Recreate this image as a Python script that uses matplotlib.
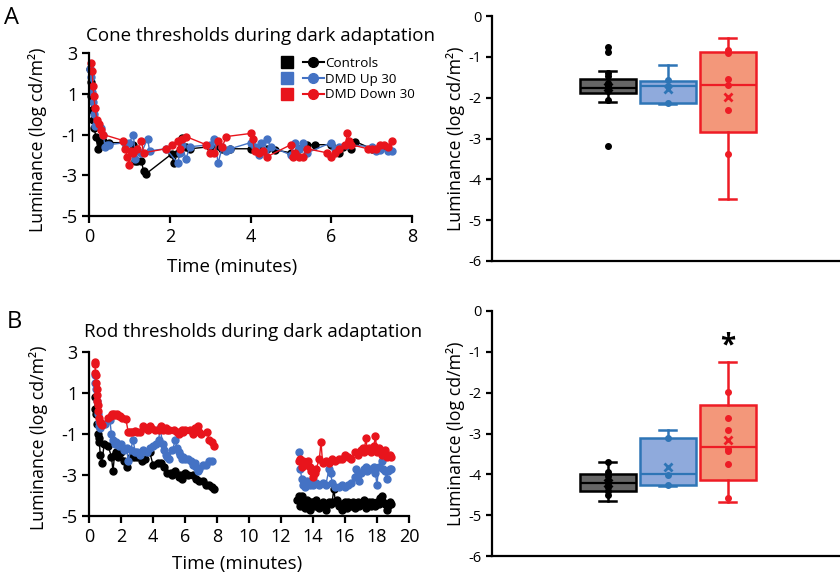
import matplotlib
matplotlib.use('Agg')
import matplotlib.pyplot as plt
from matplotlib.lines import Line2D
from matplotlib.legend_handler import HandlerTuple

plt.rcParams['font.family'] = ['Open Sans', 'DejaVu Sans']
plt.rcParams['axes.unicode_minus'] = False

# ---------------- data ----------------
series_names = ['Controls', 'DMD Up 30', 'DMD Down 30']
line_colors = ['#000000', '#4472c4', '#e8141c']
box_edges = ['#000000', '#2e75b6', '#ee1c25']
box_fills = ['#666666', '#8faadc', '#f3977a']

# Cone thresholds (time in minutes, log cd/m2)
cone_ctrl_t = [0.02, 0.04, 0.06, 0.08, 0.10, 0.13, 0.17, 0.22, 0.27, 0.30, 0.35, 0.5, 0.9, 1.1, 1.15,
               1.2, 1.3, 1.35, 1.4, 2.05, 2.1, 2.2, 2.3, 2.4, 2.5, 3.0, 3.2, 3.3, 3.5, 4.0, 4.2, 4.4,
               4.6, 5.0, 5.2, 5.4, 5.6, 6.0, 6.2, 6.3, 6.5, 6.6, 7.0, 7.2, 7.4]
cone_ctrl_v = [2.2, 1.6, 0.9, 0.2, -0.3, -0.7, -1.1, -1.7, -1.3, -1.4, -1.3, -1.4, -1.4, -1.5, -2.3,
               -2.3, -2.3, -2.8, -2.95, -1.95, -2.4, -1.9, -1.15, -1.6, -1.7, -1.6, -1.55, -1.7, -1.7, -1.7, -1.75, -1.7,
               -1.75, -1.9, -1.7, -1.5, -1.5, -1.5, -1.9, -1.6, -1.7, -1.35, -1.7, -1.7, -1.7]
cone_up_t = [0.03, 0.06, 0.08, 0.10, 0.12, 0.15, 0.20, 0.25, 0.30, 0.35, 0.40, 0.45, 0.5, 0.9, 1.0,
             1.1, 1.15, 1.2, 1.3, 1.45, 1.5, 1.9, 2.2, 2.25, 2.3, 2.4, 2.5, 3.0, 3.1, 3.2, 3.3, 3.4,
             3.5, 4.0, 4.1, 4.2, 4.25, 4.35, 4.4, 4.5, 5.0, 5.1, 5.2, 5.3, 5.4, 6.0, 6.1, 6.2, 6.4,
             7.0, 7.1, 7.2, 7.4, 7.5]
cone_up_v = [2.2, 1.8, 1.1, 0.6, 0.0, -0.6, -0.4, -0.6, -0.7, -1.0, -1.6, -1.5, -1.5, -1.4, -1.4,
             -1.0, -2.2, -1.8, -1.9, -1.2, -1.8, -1.7, -2.4, -1.9, -1.5, -2.2, -1.6, -1.5, -1.2, -2.4, -1.6, -1.8,
             -1.7, -1.4, -1.6, -2.0, -1.4, -1.8, -1.2, -1.6, -2.0, -1.4, -1.7, -1.4, -1.9, -1.4, -1.7, -1.6, -1.5,
             -1.6, -1.8, -1.75, -1.8, -1.8]
cone_down_t = [0.05, 0.08, 0.10, 0.12, 0.15, 0.20, 0.25, 0.30, 0.35, 0.85, 0.9, 0.95, 1.0, 1.05, 1.1,
               1.2, 1.3, 1.35, 1.9, 2.05, 2.2, 2.25, 2.3, 2.4, 2.9, 3.0, 3.1, 3.2, 3.3, 3.4, 4.0, 4.05,
               4.1, 4.2, 4.3, 4.4, 5.0, 5.05, 5.1, 5.2, 5.3, 5.4, 5.9, 6.0, 6.1, 6.2, 6.35, 6.4, 6.45,
               6.5, 6.9, 7.0, 7.1, 7.2, 7.3, 7.4, 7.5]
cone_down_v = [2.5, 2.1, 1.4, 0.9, 0.3, -0.3, -0.5, -0.8, -1.0, -1.3, -1.7, -2.1, -2.5, -1.8, -1.9,
               -1.7, -1.3, -1.9, -1.7, -1.5, -1.3, -1.7, -1.2, -1.1, -1.5, -1.9, -1.9, -1.3, -1.6, -1.1, -0.95, -1.2,
               -1.8, -1.9, -1.8, -2.1, -1.5, -2.1, -1.9, -2.1, -2.1, -1.7, -1.9, -2.1, -1.9, -1.7, -1.5, -0.95, -1.3,
               -1.5, -1.7, -1.7, -1.7, -1.5, -1.5, -1.6, -1.3]

# Rod thresholds: early segment and late segment per group
rod_ctrl_t1 = [0.35, 0.40, 0.45, 0.50, 0.55, 0.60, 0.65, 0.70, 0.80, 0.95, 1.2, 1.4, 1.5, 1.6, 1.7,
               1.8, 2.0, 2.2, 2.4, 2.6, 2.8, 3.0, 3.3, 3.5, 3.8, 4.0, 4.3, 4.5, 4.7, 4.9, 5.1, 5.2,
               5.4, 5.6, 5.7, 5.8, 5.9, 6.0, 6.2, 6.5, 6.7, 6.9, 7.1, 7.3, 7.5, 7.7, 7.8]
rod_ctrl_v1 = [0.8, 0.2, 0.0, -0.5, -1.0, -1.2, -1.4, -2.0, -2.4, -1.5, -1.6, -2.1, -2.8, -2.0, -1.9,
               -2.1, -1.9, -2.3, -2.6, -2.1, -2.1, -2.1, -2.3, -2.2, -1.9, -2.5, -2.4, -2.4, -2.6, -2.9, -2.9, -3.0,
               -2.8, -3.1, -3.0, -3.2, -3.0, -2.9, -3.0, -3.0, -3.2, -3.3, -3.3, -3.5, -3.5, -3.6, -3.7]
rod_ctrl_t2 = [13.0, 13.1, 13.2, 13.3, 13.4, 13.5, 13.6, 13.7, 13.8, 13.9, 14.0, 14.1, 14.2, 14.3, 14.4,
               14.5, 14.6, 14.7, 14.8, 14.9, 15.0, 15.1, 15.2, 15.3, 15.4, 15.5, 15.6, 15.7, 15.8, 15.9,
               16.0, 16.1, 16.2, 16.3, 16.4, 16.5, 16.6, 16.7, 16.8, 16.9, 17.0, 17.1, 17.2, 17.3, 17.4,
               17.5, 17.6, 17.7, 17.8, 17.9, 18.0, 18.1, 18.2, 18.3, 18.4, 18.5, 18.6, 18.7, 18.8, 18.9]
rod_ctrl_v2 = [-4.2, -4.0, -4.5, -4.0, -4.3, -4.6, -4.2, -4.4, -4.7, -4.3, -4.3, -4.5, -4.2, -4.4, -4.6,
               -4.5, -4.3, -4.4, -4.7, -4.4, -4.3, -4.4, -4.3, -3.7, -4.3, -4.2, -4.5, -4.4, -4.7, -4.4,
               -4.3, -4.6, -4.3, -4.4, -4.5, -4.3, -4.6, -4.4, -4.3, -4.5, -4.4, -4.3, -4.2, -4.6, -4.4,
               -4.3, -4.5, -4.3, -4.4, -4.5, -4.3, -4.4, -4.1, -4.0, -4.3, -4.4, -4.7, -4.5, -4.3, -4.4]

rod_up_t1 = [0.35, 0.40, 0.45, 0.50, 0.55, 0.60, 0.65, 0.70, 1.0, 1.3, 1.4, 1.5, 1.6, 1.7, 1.9,
             2.0, 2.2, 2.35, 2.45, 2.6, 2.75, 2.9, 3.0, 3.2, 3.4, 3.6, 3.8, 4.0, 4.2, 4.35, 4.45,
             4.6, 4.7, 4.8, 4.9, 5.0, 5.2, 5.4, 5.5, 5.6, 5.7, 5.8, 5.9, 6.0, 6.2, 6.4, 6.5, 6.6,
             6.7, 6.8, 6.9, 7.1, 7.3, 7.5, 7.7]
rod_up_v1 = [1.9, 1.5, 1.2, 0.6, 0.0, -0.4, -0.6, -0.7, -0.5, -0.3, -1.0, -1.3, -1.5, -1.4, -1.6,
             -1.5, -1.8, -1.7, -2.3, -1.8, -1.3, -1.9, -1.9, -2.0, -1.8, -1.9, -1.7, -1.6, -1.5, -1.3, -0.7,
             -1.5, -1.8, -2.0, -2.1, -2.2, -1.8, -1.3, -1.7, -1.9, -2.0, -2.2, -2.1, -2.2, -2.2, -2.3, -2.5, -2.4,
             -2.6, -2.8, -2.7, -2.5, -2.5, -2.3, -2.3]
rod_up_t2 = [13.1, 13.2, 13.3, 13.4, 13.5, 13.6, 13.7, 13.8, 13.9, 14.0, 14.2, 14.4, 14.6, 14.8, 15.0,
             15.1, 15.2, 15.4, 15.6, 15.8, 16.0, 16.2, 16.4, 16.6, 16.7, 16.8, 16.9, 17.0, 17.2, 17.3,
             17.4, 17.6, 17.8, 17.9, 18.0, 18.1, 18.3, 18.4, 18.5, 18.6, 18.7, 18.8, 18.9]
rod_up_v2 = [-1.9, -2.7, -3.2, -3.5, -3.6, -3.3, -3.4, -3.5, -3.4, -3.5, -3.4, -3.5, -3.4, -3.5, -2.7,
             -2.9, -3.4, -3.6, -3.6, -3.5, -3.6, -3.5, -3.4, -3.1, -2.7, -3.0, -3.3, -2.9, -2.7, -2.6,
             -2.8, -2.7, -2.6, -2.9, -3.5, -2.6, -2.3, -2.7, -2.8, -3.2, -2.8, -2.7, -2.7]

rod_down_t1 = [0.35, 0.38, 0.40, 0.42, 0.45, 0.48, 0.50, 0.52, 0.55, 0.58, 0.62, 0.66, 0.72, 0.8, 1.2,
               1.35, 1.45, 1.55, 1.65, 1.75, 1.85, 1.95, 2.05, 2.3, 2.45, 2.55, 2.7, 2.85, 3.0, 3.2,
               3.4, 3.5, 3.7, 3.8, 3.9, 4.1, 4.35, 4.5, 4.6, 4.8, 4.9, 5.0, 5.3, 5.5, 5.6, 5.7, 5.8,
               5.9, 6.0, 6.3, 6.5, 6.6, 6.7, 6.8, 6.9, 7.0, 7.4, 7.5, 7.7, 7.8]
rod_down_v1 = [2.5, 2.4, 2.0, 1.9, 1.5, 1.2, 0.9, 0.6, 0.4, 0.1, -0.2, -0.4, -0.5, -0.55, -0.2,
               -0.1, 0.0, 0.0, -0.05, 0.0, -0.1, -0.1, -0.2, -0.25, -0.9, -0.9, -0.9, -0.85, -0.9, -0.9,
               -0.6, -0.7, -0.8, -0.6, -0.7, -0.8, -0.8, -0.6, -0.8, -0.7, -0.8, -0.8, -0.8, -0.9, -1.0, -0.9, -0.8,
               -0.9, -0.8, -0.8, -1.0, -0.7, -0.8, -0.6, -0.9, -1.0, -0.9, -1.3, -1.4, -1.6]
rod_down_t2 = [13.1, 13.2, 13.3, 13.4, 13.5, 13.6, 13.7, 13.8, 13.9, 14.0, 14.1, 14.2, 14.4, 14.5, 14.6,
               14.8, 15.0, 15.2, 15.4, 15.6, 15.8, 16.0, 16.2, 16.4, 16.6, 16.8, 17.0, 17.1, 17.2, 17.3,
               17.4, 17.5, 17.6, 17.8, 17.9, 18.0, 18.1, 18.3, 18.5, 18.6, 18.8, 18.9]
rod_down_v2 = [-2.3, -2.2, -2.6, -2.3, -2.4, -2.5, -2.3, -2.6, -2.8, -3.1, -2.9, -2.7, -2.2, -1.4, -2.4,
               -2.3, -2.4, -2.2, -2.3, -2.2, -2.2, -2.0, -2.1, -2.2, -1.9, -2.0, -1.8, -1.7, -1.9, -1.2,
               -1.8, -1.7, -1.9, -1.6, -1.1, -1.9, -1.7, -2.0, -1.8, -2.1, -2.0, -2.1]

# Box plot summaries (q1, median, q3, whisker low, whisker high, mean) and individual points
cone_box_q1 = [-1.89, -2.14, -2.83]
cone_box_med = [-1.76, -1.72, -1.70]
cone_box_q3 = [-1.54, -1.58, -0.88]
cone_box_lo = [-2.11, -2.16, -4.47]
cone_box_hi = [-1.35, -1.21, -0.53]
cone_box_mean = [-1.75, -1.79, -1.98]
cone_pts_ctrl = [-0.75, -0.87, -1.40, -1.47, -1.63, -1.68, -1.72, -1.78, -1.83, -2.05, -3.19]
cone_pts_up = [-1.57, -1.72, -2.14]
cone_pts_down = [-0.83, -0.90, -1.55, -1.70, -2.29, -3.37]

rod_box_q1 = [-4.40, -4.26, -4.15]
rod_box_med = [-4.22, -4.00, -3.33]
rod_box_q3 = [-4.00, -3.10, -2.30]
rod_box_lo = [-4.66, -4.29, -4.68]
rod_box_hi = [-3.69, -2.92, -1.24]
rod_box_mean = [-4.20, -3.82, -3.16]
rod_pts_ctrl = [-3.70, -3.95, -4.05, -4.15, -4.20, -4.30, -4.40, -4.50]
rod_pts_up = [-3.11, -4.02, -4.25]
rod_pts_down = [-1.98, -2.62, -2.92, -3.37, -3.42, -3.74, -4.58]

# ---------------- figure ----------------
W, H = 840, 580
fig = plt.figure(figsize=(8.4, 5.8), dpi=100)


def rect(x0, y0, x1, y1):
    return [x0 / W, 1 - y1 / H, (x1 - x0) / W, (y1 - y0) / H]


def style_axes(ax, lw=1.6):
    for s in ['top', 'right']:
        ax.spines[s].set_visible(False)
    for s in ['left', 'bottom']:
        ax.spines[s].set_linewidth(lw)
    ax.tick_params(width=lw, length=5, direction='out')


TICK_FS = 13
LABEL_FS = 12.8
YLABEL = 'Luminance (log cd/m²)'

# ---- Panel A left: cone time series ----
axA = fig.add_axes(rect(89, 53, 412, 216))
cone_series = [(cone_ctrl_t, cone_ctrl_v), (cone_up_t, cone_up_v), (cone_down_t, cone_down_v)]
for (t, v), c in zip(cone_series, line_colors):
    axA.plot(t, v, '-o', color=c, ms=5, lw=1.0, clip_on=False)
axA.set_xlim(0, 8)
axA.set_ylim(-5, 3)
axA.set_xticks([0, 2, 4, 6, 8])
axA.set_yticks([3, 1, -1, -3, -5])
style_axes(axA)
axA.tick_params(labelsize=TICK_FS)
axA.set_xlabel('Time (minutes)', fontsize=13.5, va='center')
axA.xaxis.set_label_coords(0.443, -0.31)
axA.set_ylabel(YLABEL, fontsize=LABEL_FS, va='center')
axA.yaxis.set_label_coords(-0.158, 0.47)

handles = []
for c in line_colors:
    sq = Line2D([], [], marker='s', ls='none', color=c, ms=8.5)
    ln = Line2D([], [], marker='o', ls='-', color=c, ms=7, lw=1.5)
    handles.append((sq, ln))
axA.legend(handles, series_names, handler_map={tuple: HandlerTuple(ndivide=None, pad=0.4)},
           loc='upper left', bbox_to_anchor=(277 / W, 1 - 57 / H), bbox_transform=fig.transFigure,
           frameon=False, fontsize=9.6, handlelength=3.5, handletextpad=0.1, labelspacing=0.2,
           borderaxespad=0, borderpad=0)

fig.text(260 / W, 1 - 36 / H, 'Cone thresholds during dark adaptation', fontsize=13.5,
         ha='center', va='center')
fig.text(12 / W, 1 - 18 / H, 'A', fontsize=17, ha='center', va='center')

# ---- Panel B left: rod time series ----
axB = fig.add_axes(rect(89, 352, 409, 516))
rod_series = [(rod_ctrl_t1, rod_ctrl_v1, rod_ctrl_t2, rod_ctrl_v2),
              (rod_up_t1, rod_up_v1, rod_up_t2, rod_up_v2),
              (rod_down_t1, rod_down_v1, rod_down_t2, rod_down_v2)]
for (t1, v1, t2, v2), c in zip(rod_series, line_colors):
    axB.plot(t1, v1, '-o', color=c, ms=5, lw=1.0, clip_on=False)
    axB.plot(t2, v2, '-o', color=c, ms=5, lw=1.0, clip_on=False)
axB.set_xlim(0, 20)
axB.set_ylim(-5, 3)
axB.set_xticks(range(0, 21, 2))
axB.set_yticks([3, 1, -1, -3, -5])
style_axes(axB)
axB.tick_params(labelsize=TICK_FS)
axB.set_xlabel('Time (minutes)', fontsize=13.5, va='center')
axB.xaxis.set_label_coords(0.4625, -0.29)
axB.set_ylabel(YLABEL, fontsize=LABEL_FS, va='center')
axB.yaxis.set_label_coords(-0.158, 0.48)
fig.text(253 / W, 1 - 332 / H, 'Rod thresholds during dark adaptation', fontsize=13.5,
         ha='center', va='center')
fig.text(14 / W, 1 - 322 / H, 'B', fontsize=17, ha='center', va='center')


# ---- right box plots ----
def box_panel(ax, q1, med, q3, lo, hi, mean, pts):
    positions = [1, 2, 3]
    for i in range(3):
        ec = box_edges[i]
        st = dict(q1=q1[i], med=med[i], q3=q3[i], whislo=lo[i], whishi=hi[i], mean=mean[i], fliers=[])
        ax.bxp([st], positions=[positions[i]], widths=0.93, capwidths=0.28, patch_artist=True,
               showmeans=True, showfliers=False,
               boxprops=dict(facecolor=box_fills[i], edgecolor=ec, linewidth=1.8),
               medianprops=dict(color=ec, linewidth=1.6),
               whiskerprops=dict(color=ec, linewidth=1.8),
               capprops=dict(color=ec, linewidth=1.8),
               meanprops=dict(marker='x', markeredgecolor=ec, markersize=6, markeredgewidth=2))
        ax.plot([positions[i]] * len(pts[i]), pts[i], 'o', color=ec, ms=4, ls='none', zorder=5)
    ax.set_xlim(-0.93, 4.87)
    ax.set_ylim(-6, 0)
    ax.set_yticks([0, -1, -2, -3, -4, -5, -6])
    ax.set_xticks([])
    style_axes(ax)
    ax.tick_params(labelsize=10.5, length=4)
    ax.set_ylabel(YLABEL, fontsize=LABEL_FS, va='center')
    ax.yaxis.set_label_coords(-0.106, 0.5)


axC = fig.add_axes(rect(492, 16, 840, 261))
box_panel(axC, cone_box_q1, cone_box_med, cone_box_q3, cone_box_lo, cone_box_hi, cone_box_mean,
          [cone_pts_ctrl, cone_pts_up, cone_pts_down])

axD = fig.add_axes(rect(492, 311, 840, 556))
box_panel(axD, rod_box_q1, rod_box_med, rod_box_q3, rod_box_lo, rod_box_hi, rod_box_mean,
          [rod_pts_ctrl, rod_pts_up, rod_pts_down])
axD.text(3, -0.86, '*', fontsize=20, fontweight='bold', ha='center', va='center')

fig.savefig('out.png', dpi=100)
